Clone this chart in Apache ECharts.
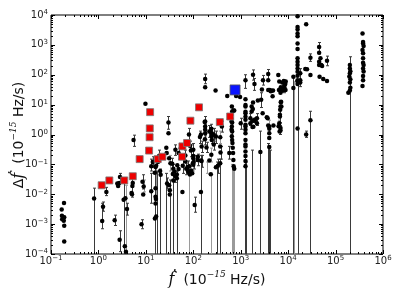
<!DOCTYPE html>
<html><head><meta charset="utf-8">
<script src="https://cdn.jsdelivr.net/npm/echarts@6/dist/echarts.min.js"></script>
<style>html,body{margin:0;padding:0;background:#fff}#c{width:400px;height:300px}</style>
</head><body><div id="c"></div>
<script>
// tick exponents (labels are 10^exp)
const xTickExps = [-1, 0, 1, 2, 3, 4, 5, 6];
const yTickExps = [-4, -3, -2, -1, 0, 1, 2, 3, 4];

// black points [fdot, delta fdot]
const dots = [
  [0.168,3.1e-3],[0.17,1.9e-3],[0.172,1.45e-3],[0.186,1.3e-3],[0.19,1.7e-3],[0.188,5.1e-3],[0.19,8.9e-4],[0.19,2.6e-4],
  [0.81,7.2e-3],[1.2,1.27e-3],[1.25,3.8e-3],[1.47,0.012],[2.2,1.36e-3],[2.5,0.023],[2.6,0.019],[2.75,0.024],[2.85,0.038],
  [2.8,3e-4],[3.4,6.6e-3],[3.7,7.4e-3],[3.6,1.8e-4],[3.8,1.2e-4],[4.0,3.2e-3],[5.0,0.011],[5.1,0.01],[5.2,0.019],[5.3,0.024],
  [5.5,0.66],[8.1,1e-3],[8.5,0.026],[8.8,9.8e-3],[9.0,0.018],[9.8,10.7],[13,0.086],[13,0.0126],[15.5,0.052],[16,0.081],
  [16,0.016],[16,8.2e-3],[16.3,7e-3],[15.5,1.55e-3],[16.5,1.8e-3],[16,4.9e-3],[20,0.06],[20.5,0.045],[14,0.12],[16.5,0.09],
  [18,0.12],[19,0.19],[27,0.36],[27.5,0.24],[28,0.023],[31,0.02],[32,0.0135],[32,9.8e-3],[36,0.105],[37,0.048],[38,0.072],
  [38,0.029],[40,0.058],[42,0.31],[42,0.04],[45,0.046],[45,0.034],[46,0.093],[49,0.24],[49,0.07],[30,2.5],[30,1.1],[31,0.16],
  [33,0.11],[59,0.012],[60,0.09],[68,0.2],[68,0.126],[71,0.072],[76,0.081],[78,0.059],[81,1.0],[82,0.052],[83,0.086],
  [85,0.046],[85,0.42],[89,0.29],[90,0.062],[95,0.05],[100,0.31],[100,0.16],[100,0.098],[100,0.19],[102,0.12],[98,0.11],
  [107,4.4e-3],[123,0.14],[125,0.18],[138,0.83],[145,0.135],[145,0.0118],[145,1.0],[150,0.13],[150,0.4],[174,2.6],[178,1.44],
  [178,1.1],[176,0.7],[178,2.7],[178,1.86],[178,72],[178,38],[190,0.37],[218,0.135],[218,1.26],[234,0.047],[240,1.55],
  [245,0.85],[245,1.1],[245,0.66],[240,0.21],[270,1.0],[270,0.46],[295,29.5],[300,0.85],[300,0.08],[330,0.09],[370,0.11],
  [370,0.81],[370,0.4],[375,0.25],[400,1.86],[520,19.5],[575,0.24],[650,8.6],[660,5.9],[700,6.3],[730,6.3],[730,0.072],
  [640,1.44],[650,0.87],[660,0.66],[670,0.52],[680,0.36],[690,0.24],[700,0.14],[710,0.086],[640,2.7],[660,2.5],[650,1.86],
  [660,1.26],[800,19.5],[970,18],[1000,2.4],
  [1260,66],[1260,15],[1260,9.8],[1260,8.6],[1260,5.8],[1260,5.1],[1260,3.9],[1260,3.1],[1260,2.1],[1260,1.86],[1260,1.44],
  [1260,1.1],[1260,0.66],[1260,0.46],[1260,0.4],[1260,0.27],[1260,0.19],[1260,0.13],[1260,0.086],
  [1600,3.5],[1600,2.4],[1700,8.6],[1700,5.9],[1820,100],[1820,11.7],[1800,7.2],[1770,1.77],[1850,1.8],[1800,2.9],[1950,49],
  [1950,2.9],[2000,3.2],[2200,3.5],[2200,2.4],[2300,13.7],[2600,0.26],[2700,14.5],[2800,32],[2900,5.1],[2950,66],[3550,3.8],
  [3700,3.5],[3800,105],[3800,66],[3800,31],[3800,2.0],[4000,1.1],[4000,0.76],[4000,0.38],[4000,1.55],[4000,1.86],[4100,31],
  [4300,28],[4500,29],[4700,19],[4800,29.5],[4900,2.0],[6300,1.9],[6600,1.26],[6900,1.35],[6700,4.6],[6700,4.0],[6800,6.7],
  [6900,8.6],[7100,12.6],[6500,2.4],[6900,1.66],
  [6200,98],[6500,59],[7000,38],[6400,31],[6900,25],[7400,29],[7900,31],[8300,38],[7500,55],[8100,62],[8900,59],[8700,49],
  [8800,31],[8300,44],[7000,12],[7200,8.6],
  [12900,86],[12900,36],[15800,1.6],[24000,1.0],[29500,3.0],
  [15800,9100],[15800,4000],[15800,3300],[15800,2400],[15800,1950],[15800,1120],[15800,730],[15800,355],[15800,270],
  [15800,210],[15800,163],[15800,126],[15800,93],[15800,66],[15800,59],[15800,49],
  [18000,112],[18000,66],[18000,55],[24000,4900],[23000,155],[25000,152],[29500,98],[29500,370],
  [45000,850],[45000,540],[48000,355],[45000,270],[45000,210],[50000,210],[52000,195],[46000,86],[55000,72],[66000,62],[66000,295],
  [186000,25],[200000,210],[200000,163],[205000,132],[200000,112],[195000,87],[205000,71],[200000,55],[205000,37],[200000,29.5],
  [370000,2400],[380000,1260],[380000,1120],[390000,910],[370000,680],[380000,520],[380000,355],[380000,250],[390000,210],
  [380000,163],[390000,128],[380000,91],[380000,66],[370000,42]
];

// red squares [fdot, delta fdot]
const redSquares = [
  [1.17,0.02],[1.7,0.029],[3.5,0.029],[5.3,0.04],[7.4,0.15],[11.7,0.29],[12.3,5.6],[12.1,1.6],[12,0.81],
  [17.8,0.15],[22.3,0.18],[58,0.18],[59,0.40],[74,0.52],[87,2.9],[132,8.1],[363,2.6],[600,4.0]
];

// blue square [fdot, delta fdot]
const blueSquares = [[760, 31]];

// error bars [fdot, low, high]
const barsDark = [
  [0.81,1e-6,0.016],[3.4,1e-6,0.025],[15.5,1e-6,0.08],[17,1e-6,0.06],[20,1e-6,0.07],[27,1e-6,0.05],[32,1e-6,0.03],
  [38,1e-6,0.1],[45,1e-6,0.06],[145,1e-6,0.2],[310,1e-6,0.12],[370,1e-6,0.15],[1220,1e-6,0.1],[1260,1e-6,0.2],
  [1300,1e-6,0.12],[1700,1e-6,0.3],[2600,1e-6,1.3],[3800,1e-6,0.5],[4000,1e-6,0.4],[4200,1e-6,0.3],[12900,1e-6,80],
  [15800,1e-6,60],[29500,1e-6,6],[200000,1e-6,400],
  [1.2,7e-4,5e-3],[1.25,2.7e-3,5.5e-3],[1.47,0.009,0.017],[2.2,9e-4,2e-3],[2.8,1.2e-4,6e-4],[2.85,0.025,0.05],
  [4.0,2e-3,5e-3],[5.2,0.008,0.035],[5.5,0.4,0.95],[8.1,7e-4,1.4e-3],[8.5,0.015,0.045],[13,0.06,0.15],[13,0.005,0.05],
  [81,0.55,1.6],[107,2.5e-3,8e-3],[178,50,105],[1260,35,100],[1820,66,145],[3800,60,150],[24000,0.8,1.3],[174,1.5,4],
  [240,1.1,2.2],[28,0.015,0.035],[42,0.2,0.45],[49,0.15,0.35],[68,0.13,0.3],[100,0.1,0.5],[150,0.08,0.2],[190,0.25,0.55],
  [270,0.6,1.6],[640,1.5,4.5],[1600,2,5],[2200,2,5],[2700,8,25],[6700,2,8],[6900,1,2.5],[8300,25,60],[29500,280,500],
  [66000,200,420],[45000,500,1200],
  [89,0.18,0.45],[85,0.3,0.6],[102,0.07,0.2],[123,0.09,0.22],[138,0.5,1.3],[150,0.25,0.6],[176,0.45,1.1],
  [178,0.9,2.2],[218,0.8,2],[245,0.5,1.6],[270,0.3,0.7],[300,0.5,1.3],[330,0.05,0.15],[375,0.15,0.4],[400,1.2,2.8],
  [575,0.15,0.4],[650,0.5,1.4],[660,3.5,9],[1000,1.5,3.5],[60,0.05,0.15],[71,0.045,0.11],[76,0.05,0.13],[36,0.07,0.16],
  [42,0.025,0.06],[19,0.12,0.3],[14,0.08,0.18],[30,1.5,4],[1950,30,75],[2950,45,95],[18000,40,160]
];
const barsGrey = [
  [3.8,1e-6,0.02],[80,1e-6,0.07],[234,1e-6,0.047],[650,1e-6,0.1],[700,1e-6,0.08],[720,1e-6,0.07],[13400,1e-6,60],
  [9,0.012,0.03],[33,0.06,0.2],[16,0.01,0.1],[370,0.5,1.3],[190,0.05,0.12],[100,0.06,0.16],[240,0.12,0.35],
  [4000,1.2,3],[6300,1.2,3]
];

const X_MIN = Math.pow(10, xTickExps[0]), X_MAX = Math.pow(10, xTickExps[xTickExps.length - 1]);
const Y_MIN = Math.pow(10, yTickExps[0]), Y_MAX = Math.pow(10, yTickExps[yTickExps.length - 1]);

function majorValues(exps) { return exps.map(e => Math.pow(10, e)); }
function minorValues(exps) {
  const out = [];
  for (let i = 0; i < exps.length - 1; i++) for (let m = 2; m <= 9; m++) out.push(m * Math.pow(10, exps[i]));
  return out;
}

function errSeries(data, color) {
  return {
    type: 'custom', data: data, z: 2, silent: true,
    encode: { x: 0, y: [1, 2] },
    renderItem: function (params, api) {
      const f = api.value(0), loRaw = api.value(1), hiRaw = api.value(2);
      const lo = Math.max(loRaw, Y_MIN), hi = Math.min(hiRaw, Y_MAX);
      const p1 = api.coord([f, lo]), p2 = api.coord([f, hi]);
      const x = Math.round(p1[0]) + 0.5;
      const st = { stroke: color, lineWidth: 1 };
      const ch = [{ type: 'line', shape: { x1: x, y1: p1[1], x2: x, y2: p2[1] }, style: st }];
      if (loRaw >= Y_MIN) ch.push({ type: 'line', shape: { x1: x - 1.5, y1: p1[1], x2: x + 1.5, y2: p1[1] }, style: st });
      if (hiRaw <= Y_MAX) ch.push({ type: 'line', shape: { x1: x - 1.5, y1: p2[1], x2: x + 1.5, y2: p2[1] }, style: st });
      return { type: 'group', children: ch };
    }
  };
}

function tickSeries(values, isX, len) {
  return {
    type: 'custom', silent: true, z: 10,
    data: values.map(v => isX ? [v, 1] : [1, v]),
    renderItem: function (params, api) {
      const cs = params.coordSys;
      const st = { stroke: '#000', lineWidth: 1 };
      if (isX) {
        const px = Math.round(api.coord([api.value(0), 1])[0]) + 0.5;
        const b = cs.y + cs.height;
        return { type: 'group', children: [
          { type: 'line', shape: { x1: px, y1: b, x2: px, y2: b - len }, style: st },
          { type: 'line', shape: { x1: px, y1: cs.y, x2: px, y2: cs.y + len }, style: st }
        ] };
      } else {
        const py = Math.round(api.coord([1, api.value(1)])[1]) + 0.5;
        const r = cs.x + cs.width;
        return { type: 'group', children: [
          { type: 'line', shape: { x1: cs.x, y1: py, x2: cs.x + len, y2: py }, style: st },
          { type: 'line', shape: { x1: r, y1: py, x2: r - len, y2: py }, style: st }
        ] };
      }
    }
  };
}

const richLab = {
  b: { fontSize: 10, fontFamily: 'DejaVu Sans', color: '#222', lineHeight: 12, padding: [3, 0, 3, 0] },
  s: { fontSize: 7, fontFamily: 'DejaVu Sans', color: '#222', lineHeight: 8, verticalAlign: 'top' }
};
function expLabel(v) {
  const e = Math.round(Math.log10(v));
  return '{b|10}{s|' + (e < 0 ? '\u2212' + (-e) : e) + '}';
}

const chart = echarts.init(document.getElementById('c'), null, { renderer: 'canvas' });
chart.setOption({
  animation: false,
  backgroundColor: '#fff',
  grid: { left: 51, top: 15, right: 17, bottom: 46, show: true, borderColor: '#000', borderWidth: 1, backgroundColor: 'transparent' },
  xAxis: {
    type: 'log', logBase: 10, min: X_MIN, max: X_MAX, interval: 1,
    axisLine: { show: false }, axisTick: { show: false }, splitLine: { show: false },
    axisLabel: { margin: 1, formatter: expLabel, rich: richLab }
  },
  yAxis: {
    type: 'log', logBase: 10, min: Y_MIN, max: Y_MAX, interval: 1,
    axisLine: { show: false }, axisTick: { show: false }, splitLine: { show: false },
    axisLabel: { margin: 3, formatter: expLabel, rich: richLab }
  },
  graphic: [
    { type: 'text', x: 217, y: 279, style: {
      text: '{f|\u1E1F}{n|  (10}{s|\u221215}{n| Hz/s)}', textAlign: 'center', textVerticalAlign: 'middle',
      rich: {
        f: { fontSize: 16, fontFamily: 'DejaVu Serif', fontStyle: 'italic', fill: '#111', lineHeight: 18, padding: [2, 0, 0, 0] },
        n: { fontSize: 14, fontFamily: 'DejaVu Sans', fill: '#111', lineHeight: 18, padding: [2, 0, 0, 0] },
        s: { fontSize: 9, fontFamily: 'DejaVu Serif', fontStyle: 'italic', fill: '#111', lineHeight: 10, verticalAlign: 'top' }
      } } },
    { type: 'text', x: 18, y: 135, rotation: Math.PI / 2, style: {
      text: '{d|\u0394}{f|\u1E1F}{n|  (10}{s|\u221215}{n| Hz/s)}', textAlign: 'center', textVerticalAlign: 'middle',
      rich: {
        d: { fontSize: 14, fontFamily: 'DejaVu Sans', fill: '#111', lineHeight: 18, padding: [2, 0, 0, 0] },
        f: { fontSize: 16, fontFamily: 'DejaVu Serif', fontStyle: 'italic', fill: '#111', lineHeight: 18, padding: [2, 0, 0, 0] },
        n: { fontSize: 14, fontFamily: 'DejaVu Sans', fill: '#111', lineHeight: 18, padding: [2, 0, 0, 0] },
        s: { fontSize: 9, fontFamily: 'DejaVu Serif', fontStyle: 'italic', fill: '#111', lineHeight: 10, verticalAlign: 'top' }
      } } }
  ],
  series: [
    errSeries(barsGrey, '#9a9a9a'),
    errSeries(barsDark, '#3a3a3a'),
    { type: 'scatter', data: dots, symbol: 'circle', symbolSize: 4.5, z: 3, silent: true,
      itemStyle: { color: '#000', opacity: 1 } },
    { type: 'scatter', data: redSquares, symbol: 'rect', symbolSize: 7, z: 4, silent: true,
      itemStyle: { color: '#ee0000', borderColor: '#777', borderWidth: 0.8, opacity: 1 } },
    { type: 'scatter', data: blueSquares, symbol: 'rect', symbolSize: 10, z: 5, silent: true,
      itemStyle: { color: '#0a14ff', borderColor: '#555', borderWidth: 0.8, opacity: 1 } },
    tickSeries(majorValues(xTickExps), true, 4),
    tickSeries(minorValues(xTickExps), true, 2),
    tickSeries(majorValues(yTickExps), false, 4),
    tickSeries(minorValues(yTickExps), false, 2)
  ]
});
</script>
</body></html>
